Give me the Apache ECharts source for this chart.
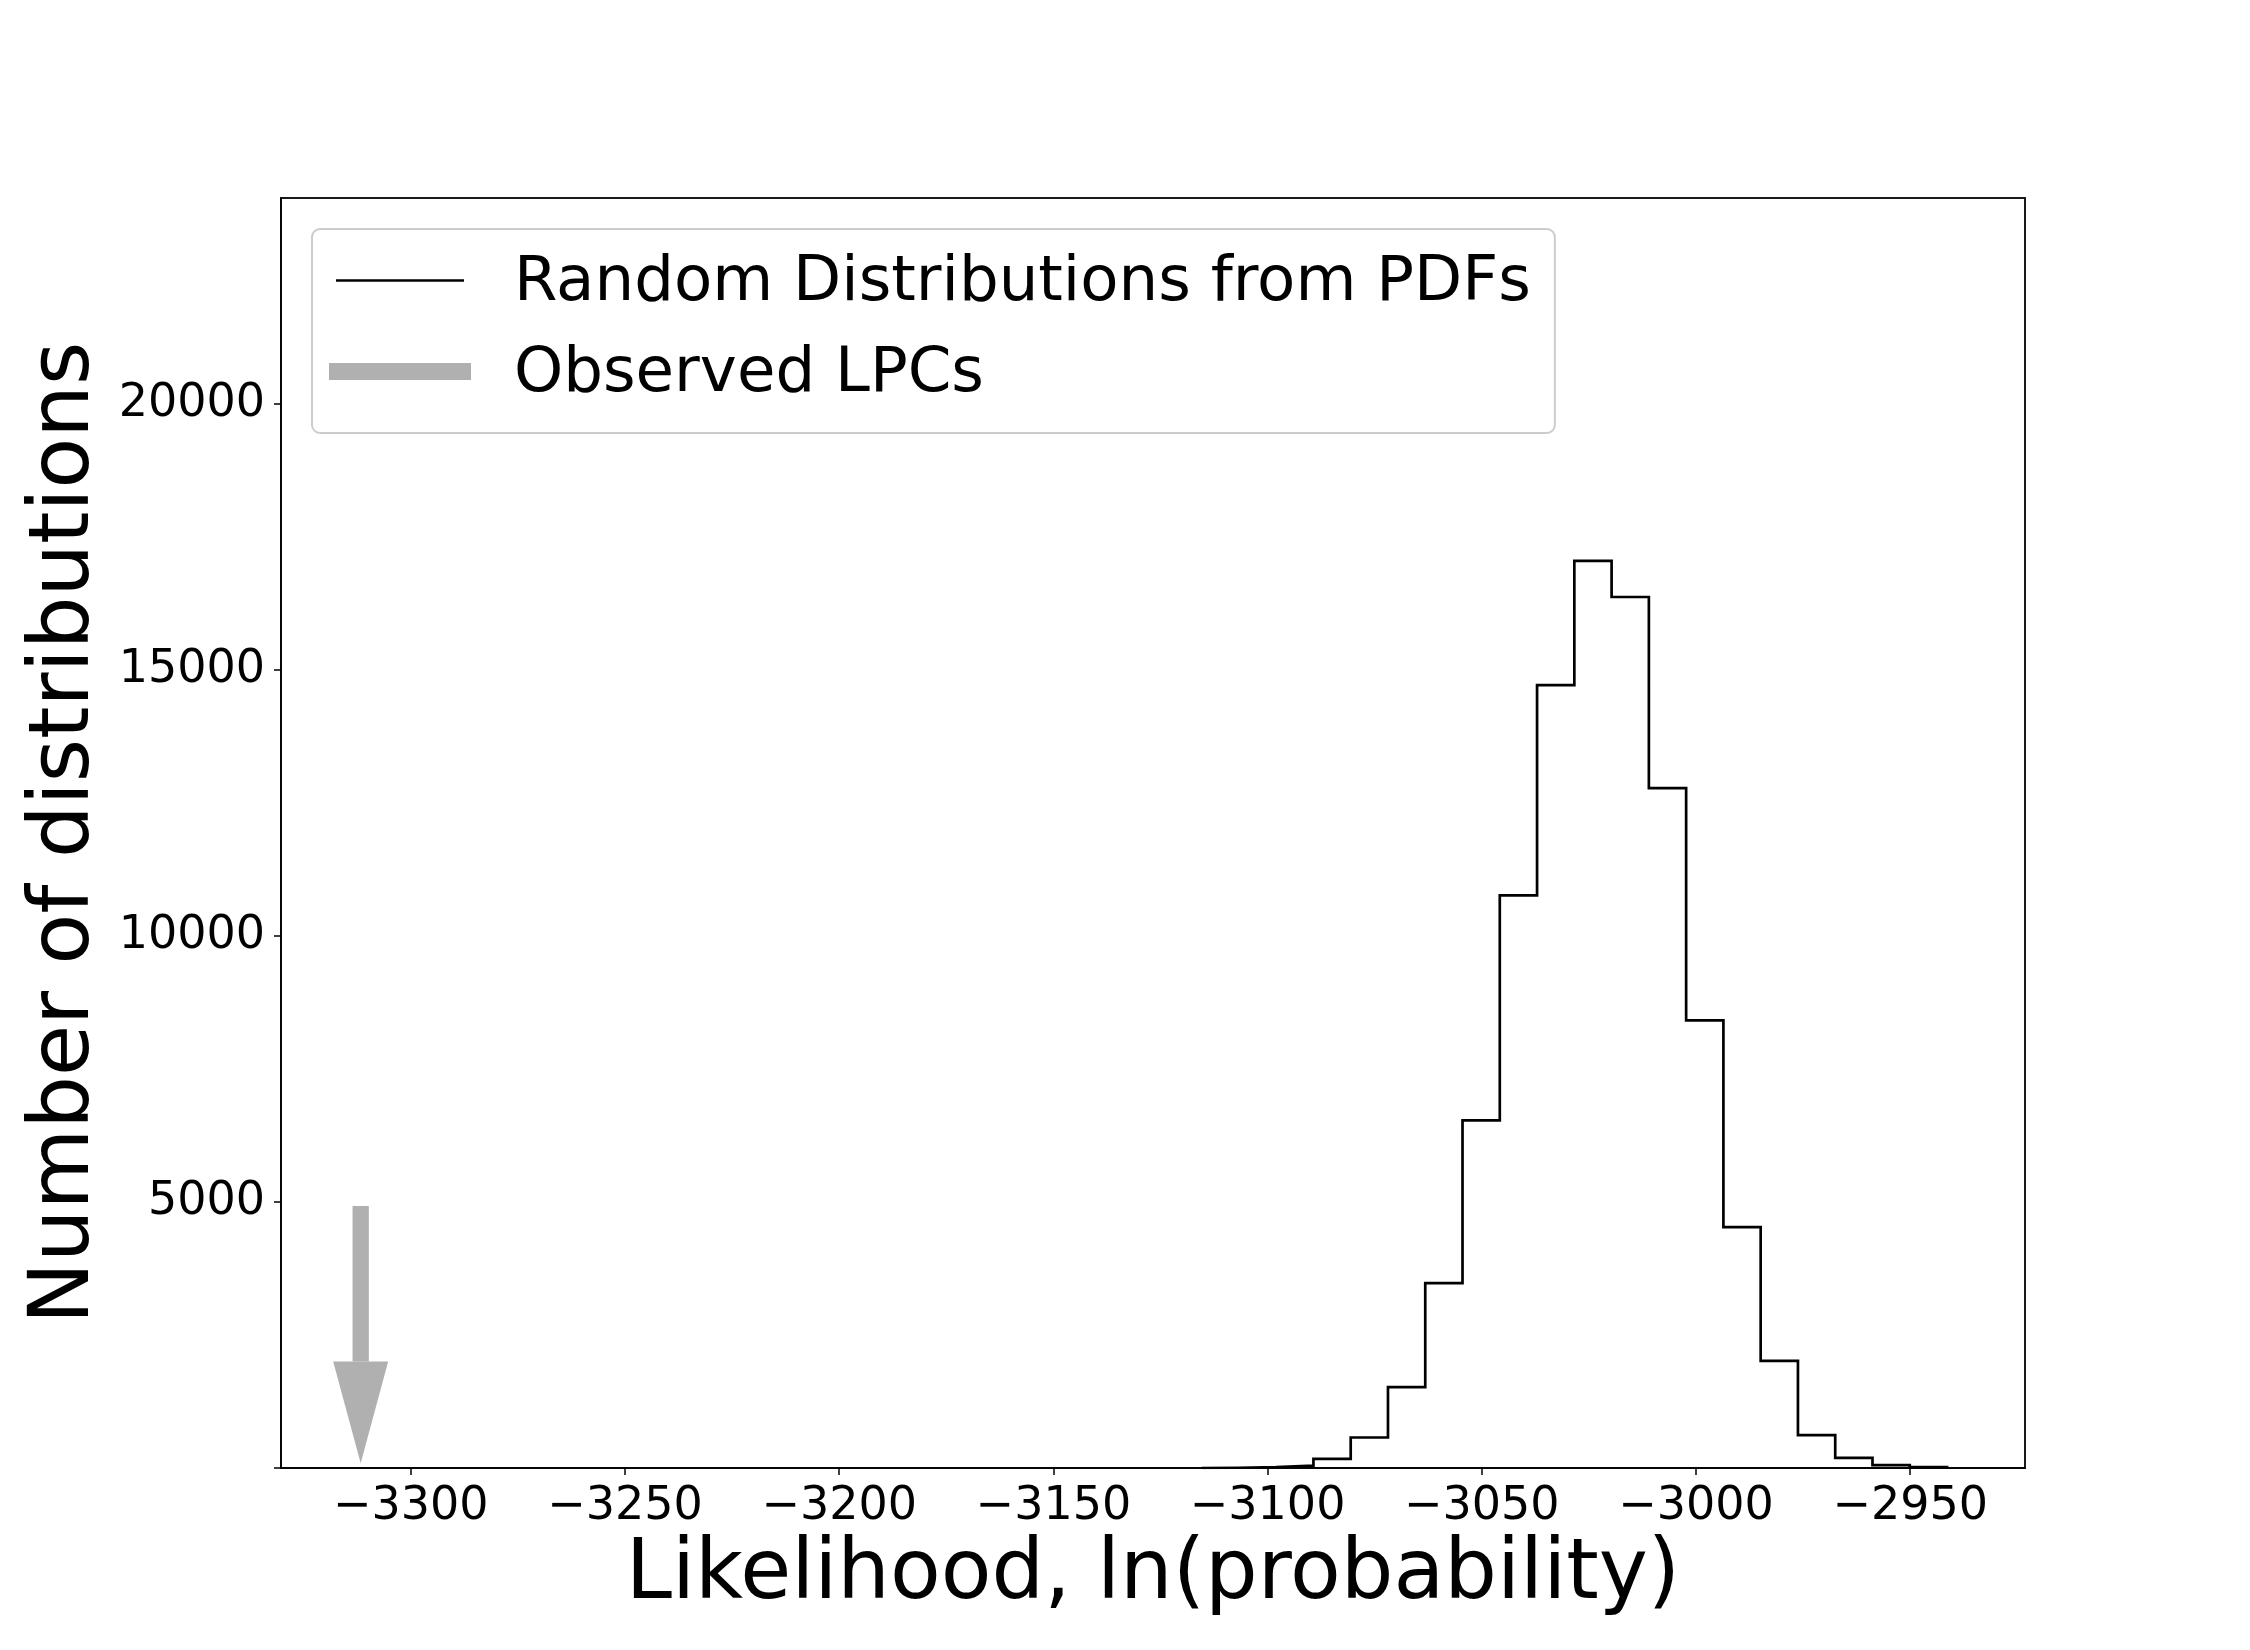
<!DOCTYPE html>
<html><head><meta charset="utf-8">
<script src="https://cdn.jsdelivr.net/npm/echarts@6/dist/echarts.min.js"></script>
<style>html,body{margin:0;padding:0;background:#fff}#c{width:2250px;height:1650px}</style>
</head><body><div id="c"></div>
<script>
// ---- data ----
const binEdges = [-3115.4,-3106.7,-3098.0,-3089.3,-3080.6,-3071.9,-3063.2,-3054.5,-3045.8,-3037.1,-3028.4,-3019.7,-3011.0,-3002.3,-2993.6,-2984.9,-2976.2,-2967.5,-2958.8,-2950.1,-2941.4];
const binCounts = [5,15,45,173,573,1519,3474,6532,10763,14716,17048,16371,12780,8413,4527,2015,617,192,55,15];
const observedLPC = -3311.7;
const arrowTop = 4925, arrowHeadBase = 2000, arrowTip = 90;
const xTickValues = [-3300,-3250,-3200,-3150,-3100,-3050,-3000,-2950];
const yTickValues = [0,5000,10000,15000,20000];
const yLabelValues = [5000,10000,15000,20000];
const xRange = [-3330.3, -2923.2];
const yRange = [0, 23870];
const seriesNames = ['Random Distributions from PDFs', 'Observed LPCs'];
const xTitle = 'Likelihood, ln(probability)';
const yTitle = 'Number of distributions';

// ---- build ----
const FF = 'DejaVu Sans';
const GRAY = '#b0b0b0';
const histPoints = [[binEdges[0], 0]];
for (let i = 0; i < binCounts.length; i++) histPoints.push([binEdges[i], binCounts[i]]);
histPoints.push([binEdges[binEdges.length - 1], 0]);

const chart = echarts.init(document.getElementById('c'), null, {renderer: 'canvas'});
chart.setOption({
  animation: false,
  backgroundColor: '#fff',
  grid: {left: 281, right: 225, top: 198, bottom: 182, show: true, borderColor: '#1a1a1a', borderWidth: 2, backgroundColor: 'transparent'},
  legend: {
    orient: 'vertical', left: 312, top: 229,
    padding: [23, 24, 27, 17],
    itemGap: 28, itemWidth: 180, itemHeight: 29,
    backgroundColor: 'rgba(255,255,255,0.8)',
    borderColor: '#cccccc', borderWidth: 2, borderRadius: 8,
    textStyle: {fontFamily: FF, fontSize: 62.6, color: '#000'},
    itemStyle: {borderWidth: 0},
    selectedMode: false,
    data: [
      {name: seriesNames[0], icon: 'path://M0,0L0,0M7,0h128v2.5h-128zM180,8.5L180,8.5'},
      {name: seriesNames[1], icon: 'path://M0,0h142v17h-142zM180,23L180,23'}
    ]
  },
  xAxis: {
    type: 'value', min: xRange[0], max: xRange[1],
    axisLine: {show: true, onZero: false, lineStyle: {color: '#000', width: 1.5}},
    axisTick: {show: true, length: 7, customValues: xTickValues, lineStyle: {color: '#000', width: 1.5}},
    axisLabel: {customValues: xTickValues, formatter: v => String(v).replace('-', '\u2212'),
      fontFamily: FF, fontSize: 46, color: '#000', margin: 16},
    splitLine: {show: false},
    name: xTitle, nameLocation: 'middle', nameGap: 63,
    nameTextStyle: {fontFamily: FF, fontSize: 83, color: '#000'}
  },
  yAxis: {
    type: 'value', min: yRange[0], max: yRange[1],
    axisLine: {show: true, onZero: false, lineStyle: {color: '#000', width: 1.5}},
    axisTick: {show: true, length: 7, customValues: yTickValues, lineStyle: {color: '#000', width: 1.5}},
    axisLabel: {customValues: yLabelValues, formatter: v => String(v),
      fontFamily: FF, fontSize: 46, color: '#000', margin: 16},
    splitLine: {show: false},
    name: yTitle, nameLocation: 'middle', nameGap: 156,
    nameTextStyle: {fontFamily: FF, fontSize: 83, color: '#000'}
  },
  series: [
    {
      type: 'line', name: seriesNames[0], data: histPoints, step: 'end',
      showSymbol: false, symbol: 'none',
      lineStyle: {color: '#000', width: 2.7, join: 'miter'},
      itemStyle: {color: '#000'}
    },
    {
      type: 'custom', name: seriesNames[1],
      itemStyle: {color: GRAY},
      encode: {x: 0, y: [1, 2, 3]},
      data: [[observedLPC, arrowTop, arrowHeadBase, arrowTip]],
      renderItem: function (params, api) {
        const x = api.value(0);
        const pTop = api.coord([x, api.value(1)]);
        const pBase = api.coord([x, api.value(2)]);
        const pTip = api.coord([x, api.value(3)]);
        const shaftW = 16.3, headW = 55;
        return {type: 'group', children: [
          {type: 'rect', shape: {x: pTop[0] - shaftW / 2, y: pTop[1], width: shaftW, height: pBase[1] - pTop[1]}, style: {fill: GRAY}},
          {type: 'polygon', shape: {points: [[pBase[0] - headW / 2, pBase[1]], [pBase[0] + headW / 2, pBase[1]], [pTip[0], pTip[1]]]}, style: {fill: GRAY}}
        ]};
      }
    }
  ]
});
</script></body></html>
